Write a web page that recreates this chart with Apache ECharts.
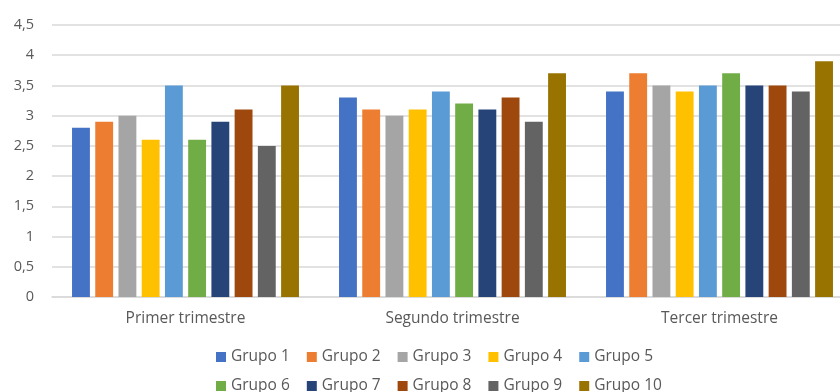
<!DOCTYPE html>
<html>
<head>
<meta charset="utf-8">
<script src="https://cdn.jsdelivr.net/npm/echarts@6/dist/echarts.min.js"></script>
<style>
  html, body { margin: 0; padding: 0; background: #ffffff; }
  #chart { width: 840px; height: 392px; }
</style>
</head>
<body>
<div id="chart"></div>
<script>
// Quarters on the category axis
const categories = ['Primer trimestre', 'Segundo trimestre', 'Tercer trimestre'];

// One array per group: values for each quarter
const grupo1 = [2.8, 3.3, 3.4];
const grupo2 = [2.9, 3.1, 3.7];
const grupo3 = [3.0, 3.0, 3.5];
const grupo4 = [2.6, 3.1, 3.4];
const grupo5 = [3.5, 3.4, 3.5];
const grupo6 = [2.6, 3.2, 3.7];
const grupo7 = [2.9, 3.1, 3.5];
const grupo8 = [3.1, 3.3, 3.5];
const grupo9 = [2.5, 2.9, 3.4];
const grupo10 = [3.5, 3.7, 3.9];

const groupNames = ['Grupo 1', 'Grupo 2', 'Grupo 3', 'Grupo 4', 'Grupo 5',
                    'Grupo 6', 'Grupo 7', 'Grupo 8', 'Grupo 9', 'Grupo 10'];
const groupValues = [grupo1, grupo2, grupo3, grupo4, grupo5,
                     grupo6, grupo7, grupo8, grupo9, grupo10];

const palette = ['#4472C4', '#ED7D31', '#A5A5A5', '#FFC000', '#5B9BD5',
                 '#70AD47', '#264478', '#9E480E', '#636363', '#997300'];

const textColor = '#595959';
const fontFamily = '"Open Sans", "Liberation Sans", sans-serif';

const chart = echarts.init(document.getElementById('chart'), null, { renderer: 'canvas' });

const legendBase = {
  orient: 'horizontal',
  left: 211,
  itemWidth: 10,
  itemHeight: 10,
  itemGap: 17,
  icon: 'rect',
  textStyle: { color: textColor, fontSize: 15.5, fontFamily: fontFamily }
};

chart.setOption({
  animation: false,
  color: palette,
  // the plot area runs a little past the right edge of the canvas
  grid: { left: 52, top: 25, bottom: 95, width: 801, outerBoundsMode: 'none' },
  legend: [
    Object.assign({}, legendBase, { top: 344, data: groupNames.slice(0, 5) }),
    Object.assign({}, legendBase, { top: 373, data: groupNames.slice(5) })
  ],
  xAxis: {
    type: 'category',
    data: categories,
    axisLine: { show: true, lineStyle: { color: '#D9D9D9', width: 1.5 } },
    axisTick: { show: false },
    axisLabel: { color: textColor, fontSize: 15.5, fontFamily: fontFamily, margin: 14 }
  },
  yAxis: {
    type: 'value',
    min: 0,
    max: 4.5,
    interval: 0.5,
    axisLine: { show: false },
    axisTick: { show: false },
    splitLine: { lineStyle: { color: '#D9D9D9', width: 1.5 } },
    axisLabel: {
      color: textColor,
      fontSize: 14.5,
      fontFamily: fontFamily,
      margin: 18,
      formatter: v => String(v).replace('.', ',')
    }
  },
  series: groupNames.map((name, i) => ({
    name: name,
    type: 'bar',
    data: groupValues[i],
    barGap: '30%',
    barCategoryGap: '15%'
  }))
});
</script>
</body>
</html>
